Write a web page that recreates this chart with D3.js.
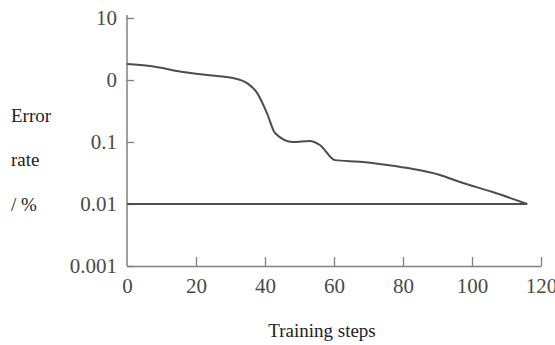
<!DOCTYPE html>
<html>
<head>
<meta charset="utf-8">
<script src="https://cdn.jsdelivr.net/npm/d3@7"></script>
<style>
  body { margin: 0; background: #fff; }
  svg text { font-family: "Liberation Serif", "DejaVu Serif", serif; }
</style>
</head>
<body>
<svg id="chart" width="555" height="345"></svg>
<script>
"use strict";

// training steps and error rate (%)
var steps = [0, 6.7, 16.2, 26.1, 30.7, 34.8, 37.7, 40.6, 42.9, 48.1, 53, 55.9, 60.3, 67.5, 75.4, 82.9, 90.7, 96.5, 106, 116];
var errorRate = [1.81, 1.68, 1.35, 1.16, 1.08, 0.89, 0.62, 0.29, 0.14, 0.10, 0.104, 0.0895, 0.051, 0.048, 0.0426, 0.0367, 0.0294, 0.0226, 0.0156, 0.01];

// flat reference line
var refSteps = [0, 116];
var refRate = [0.01, 0.01];

var xTicks = [0, 20, 40, 60, 80, 100, 120];
var yTicks = [10, 1, 0.1, 0.01, 0.001];
var yTickLabels = ["10", "0", "0.1", "0.01", "0.001"];
var yTitle = ["Error", "rate", "/ %"];

var margin = {top: 18, left: 127};
var width = 414, height = 248;

var svg = d3.select("#chart");
var g = svg.append("g").attr("transform", "translate(" + margin.left + "," + margin.top + ")");

var x = d3.scaleLinear().domain([0, 120]).range([0, width]);
var y = d3.scaleLog().domain([0.001, 10]).range([height, 0]);

//x axis, ticks pointing up
var xAxis = g.append("g")
  .attr("transform", "translate(0," + height + ")")
  .call(d3.axisBottom(x).tickValues(xTicks).tickSizeInner(-9).tickSizeOuter(0).tickPadding(12));

//y axis, ticks pointing right
var yAxis = g.append("g")
  .call(d3.axisLeft(y).tickValues(yTicks).tickSizeInner(-7).tickSizeOuter(0).tickPadding(10)
    .tickFormat(function(d, i) { return yTickLabels[i]; }));

// the y axis line runs a bit past the top tick
yAxis.select(".domain").attr("d", "M0,-3V" + height);

[xAxis, yAxis].forEach(function(a) {
  a.select(".domain").attr("stroke", "#808080").attr("stroke-width", 1.5);
  a.selectAll(".tick line").attr("stroke", "#808080").attr("stroke-width", 1.3);
  a.selectAll(".tick text")
    .attr("fill", "#4a4a4a")
    .attr("font-size", "21px");
});
xAxis.selectAll(".tick").filter(function(d) { return d === 0; }).select("line").remove();

var line = d3.line()
  .x(function(d) { return x(d[0]); })
  .y(function(d) { return y(d[1]); });

//reference line at 0.01
g.append("path")
  .datum(d3.zip(refSteps, refRate))
  .attr("fill", "none")
  .attr("stroke", "#4d4d4d")
  .attr("stroke-width", 1.8)
  .attr("d", line);

//error curve
g.append("path")
  .datum(d3.zip(steps, errorRate))
  .attr("fill", "none")
  .attr("stroke", "#4d4d4d")
  .attr("stroke-width", 2)
  .attr("d", line.curve(d3.curveMonotoneX));

//y title, three stacked words
svg.selectAll(".ytitle")
  .data(yTitle)
  .enter()
  .append("text")
  .attr("class", "ytitle")
  .attr("x", 11)
  .attr("y", function(d, i) { return [122, 166, 211][i]; })
  .attr("fill", "#222")
  .attr("font-size", "19px")
  .text(function(d) { return d; });

//x title
svg.append("text")
  .attr("x", 322)
  .attr("y", 337)
  .attr("text-anchor", "middle")
  .attr("fill", "#222")
  .attr("font-size", "19px")
  .text("Training steps");
</script>
</body>
</html>
